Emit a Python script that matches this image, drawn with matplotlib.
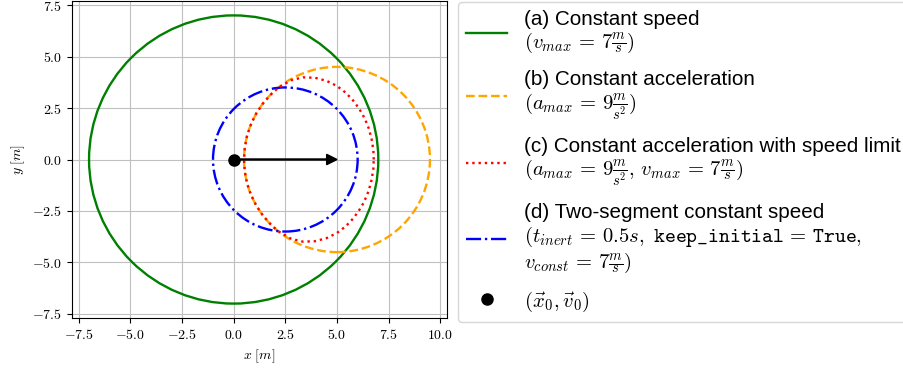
import matplotlib
matplotlib.use("Agg")
import matplotlib.pyplot as plt
from matplotlib.patches import Circle
from matplotlib.lines import Line2D
from matplotlib.ticker import FuncFormatter, MultipleLocator

plt.rcParams['font.family'] = ['Liberation Sans', 'DejaVu Sans']
plt.rcParams['mathtext.fontset'] = 'cm'

# start state: position and velocity arrow
x0 = (0.0, 0.0)
v0 = (5.0, 0.0)

# reachable sets drawn as circles: (center x, center y, radius)
circ_const_speed = (0.0, 0.0, 7.0)
circ_const_acc = (5.0, 0.0, 4.5)
circ_two_seg = (2.5, 0.0, 3.5)

# constant acceleration with speed limit, upper half (symmetric)
red_x_upper = [6.78, 6.77, 6.76, 6.72, 6.68, 6.61, 6.53, 6.41, 6.25, 6.04, 5.77, 5.43,
               5.00, 4.50, 3.94, 3.35, 2.78, 2.15, 1.82, 1.43, 1.10, 0.84, 0.65, 0.54, 0.50]
red_y_upper = [0.00, 0.23, 0.47, 0.71, 0.97, 1.24, 1.53, 1.83, 2.17, 2.52, 2.88, 3.24,
               3.57, 3.82, 3.97, 3.99, 3.85, 3.48, 3.18, 2.74, 2.25, 1.72, 1.17, 0.59, 0.00]

labels = [
    "(a) Constant speed\n$(v_{max}\\,=\\,7\\frac{m}{s})$",
    "(b) Constant acceleration\n$(a_{max}\\,=\\,9\\frac{m}{s^2})$",
    "(c) Constant acceleration with speed limit\n$(a_{max}\\,=\\,9\\frac{m}{s^2},\\, v_{max}\\,=\\,7\\frac{m}{s})$",
    "(d) Two-segment constant speed\n$(t_{inert}\\,=\\,0.5s,\\ \\mathtt{keep\\_initial}\\,=\\,\\mathtt{True},$\n$v_{const}\\,=\\,7\\frac{m}{s})$",
    "$(\\vec{x}_0, \\vec{v}_0)$",
]

lw = 1.7
fig = plt.figure(figsize=(9.04, 3.70), dpi=100)
ax = fig.add_axes([72 / 904, 52 / 370, 375 / 904, 317 / 370])

c = circ_const_speed
ax.add_patch(Circle(c[:2], c[2], fill=False, color='green', lw=lw, ls='-'))
c = circ_const_acc
ax.add_patch(Circle(c[:2], c[2], fill=False, color='orange', lw=lw, ls='--'))
red_x = red_x_upper + red_x_upper[::-1]
red_y = red_y_upper + [-v for v in red_y_upper[::-1]]
ax.plot(red_x, red_y, color='red', lw=lw, ls=':')
c = circ_two_seg
ax.add_patch(Circle(c[:2], c[2], fill=False, color='blue', lw=lw, ls='-.'))

ax.arrow(x0[0], x0[1], v0[0], v0[1], length_includes_head=True, width=0.05,
         head_width=0.5, head_length=0.5, color='black', zorder=5)
ax.plot([x0[0]], [x0[1]], 'o', color='black', ms=8, zorder=6)

ax.set_xlim(-7.825, 10.325)
ax.set_ylim(-7.7, 7.7)
ax.xaxis.set_major_locator(MultipleLocator(2.5))
ax.yaxis.set_major_locator(MultipleLocator(2.5))
fmt = FuncFormatter(lambda v, p: "$%.1f$" % v)
ax.xaxis.set_major_formatter(fmt)
ax.yaxis.set_major_formatter(fmt)
ax.tick_params(labelsize=10)
ax.grid(True, color='#c0c0c0', lw=0.8)
ax.set_axisbelow(True)
ax.set_xlabel("$x\\ [m]$", fontsize=10)
ax.set_ylabel("$y\\ [m]$", fontsize=10)

handles = [
    Line2D([], [], color='green', lw=lw, ls='-'),
    Line2D([], [], color='orange', lw=lw, ls='--'),
    Line2D([], [], color='red', lw=lw, ls=':'),
    Line2D([], [], color='blue', lw=lw, ls='-.'),
    Line2D([], [], color='black', marker='o', ls='none', ms=8),
]
leg = fig.legend(handles, labels, loc='lower left', bbox_to_anchor=(458 / 904, 48 / 370),
                 borderaxespad=0, fontsize=14.85, labelspacing=0.72)
for t in leg.get_texts():
    t.set_linespacing(1.12)

fig.savefig("out.png", dpi=100)
